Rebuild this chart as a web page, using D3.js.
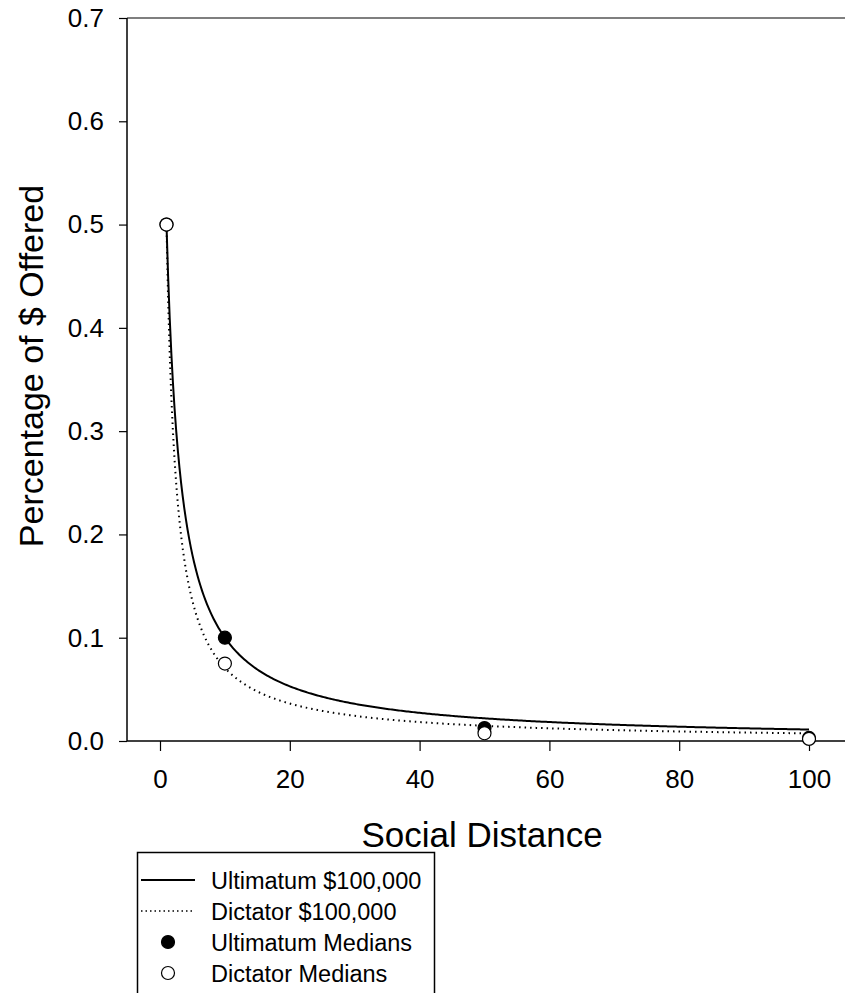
<!DOCTYPE html>
<html>
<head>
<meta charset="utf-8">
<script src="https://cdn.jsdelivr.net/npm/d3@7"></script>
<style>
  body { margin: 0; background: #fff; }
  svg { display: block; font-family: "Liberation Sans", Arial, sans-serif; }
</style>
</head>
<body>
<svg id="chart" width="845" height="993"></svg>
<script>
// observed medians by social distance
const distances = [1, 10, 50, 100];
const ultimatumMedians = [0.5, 0.1, 0.0125, 0.003];
const dictatorMedians = [0.5, 0.075, 0.0075, 0.002];

// hyperbolic fits v = A / (1 + k*D)
const ultimatumFit = { A: 0.9, k: 0.8 };
const dictatorFit = { A: 1.53, k: 2.06 };

const xTicks = [0, 20, 40, 60, 80, 100];
const yTicks = [0, 0.1, 0.2, 0.3, 0.4, 0.5, 0.6, 0.7];

const legendItems = [
    { label: "Ultimatum $100,000", type: "line", dash: null },
    { label: "Dictator $100,000", type: "line", dash: "1.5,3" },
    { label: "Ultimatum Medians", type: "dot", fill: "#000" },
    { label: "Dictator Medians", type: "dot", fill: "#fff" }
];

const FONT = '"Liberation Sans", Arial, sans-serif';

let svg = d3.select("#chart");

let x = d3.scaleLinear().domain([0, 100]).range([160, 809]);
let y = d3.scaleLinear().domain([0, 0.7]).range([741, 18]);
let xLeft = 127, xRight = 845;

// axes
let xAxis = svg.append('g')
    .attr("transform", "translate(0,741)")
    .call(d3.axisBottom(x).tickValues(xTicks).tickSize(10).tickPadding(19).tickFormat(d3.format("d")));
xAxis.select('.domain').remove();
xAxis.append('line')
    .attr('x1', xLeft).attr('x2', xRight)
    .attr('stroke', 'black').attr('stroke-width', 1.5);

let yAxis = svg.append('g')
    .attr("transform", `translate(${xLeft},0)`)
    .call(d3.axisLeft(y).tickValues(yTicks).tickSize(8).tickPadding(15).tickFormat(d3.format(".1f")));
yAxis.select('.domain').remove();
yAxis.append('line')
    .attr('y1', 18).attr('y2', 741)
    .attr('stroke', 'black').attr('stroke-width', 1.5);

svg.append('line')
    .attr('x1', xLeft).attr('x2', xRight)
    .attr('y1', 18).attr('y2', 18)
    .attr('stroke', 'black').attr('stroke-width', 1.2);

svg.selectAll('.tick line').attr('stroke', 'black').attr('stroke-width', 1.2);
svg.selectAll('.tick text')
    .attr('fill', 'black')
    .style('font-size', '26px')
    .style('font-family', FONT);

// axis titles
svg.append('text')
    .attr('x', 482).attr('y', 847)
    .attr('text-anchor', 'middle')
    .style('font-size', '35px')
    .text('Social Distance');

svg.append('text')
    .attr('transform', 'translate(43,366) rotate(-90)')
    .attr('text-anchor', 'middle')
    .style('font-size', '34px')
    .text('Percentage of $ Offered');

// fitted curves
function fitPoints(fit) {
    let pts = [];
    for (let d = 1; d <= 100; d += 0.25) {
        pts.push({ d: d, v: fit.A / (1 + fit.k * d) });
    }
    return pts;
}

let line = d3.line()
    .x(p => x(p.d))
    .y(p => y(p.v));

svg.append('path')
    .datum(fitPoints(dictatorFit))
    .attr('d', line)
    .attr('fill', 'none')
    .attr('stroke', 'black')
    .attr('stroke-width', 2)
    .attr('stroke-dasharray', '1.5,4');

svg.append('path')
    .datum(fitPoints(ultimatumFit))
    .attr('d', line)
    .attr('fill', 'none')
    .attr('stroke', 'black')
    .attr('stroke-width', 2);

// medians
svg.selectAll('.ult-point')
    .data(distances.map((d, i) => ({ d: d, v: ultimatumMedians[i] })))
    .enter()
    .append('circle')
    .classed('ult-point', true)
    .attr('cx', p => x(p.d))
    .attr('cy', p => y(p.v))
    .attr('r', 6.5)
    .attr('fill', 'black')
    .attr('stroke', 'black')
    .attr('stroke-width', 1.2);

svg.selectAll('.dic-point')
    .data(distances.map((d, i) => ({ d: d, v: dictatorMedians[i] })))
    .enter()
    .append('circle')
    .classed('dic-point', true)
    .attr('cx', p => x(p.d))
    .attr('cy', p => y(p.v))
    .attr('r', 6.5)
    .attr('fill', 'white')
    .attr('stroke', 'black')
    .attr('stroke-width', 1.2);

// legend (box runs past the bottom edge)
let legend = svg.append('g').attr('id', 'legend-g');
legend.append('path')
    .attr('d', 'M137.5,1000 V852.5 H434.5 V1000')
    .attr('fill', 'none')
    .attr('stroke', 'black')
    .attr('stroke-width', 1.5);

legendItems.forEach((item, i) => {
    let cy = 880 + i * 31;
    if (item.type == "line") {
        legend.append('line')
            .attr('x1', 141).attr('x2', 195)
            .attr('y1', cy).attr('y2', cy)
            .attr('stroke', 'black')
            .attr('stroke-width', item.dash ? 1.5 : 2)
            .attr('stroke-dasharray', item.dash);
    } else {
        legend.append('circle')
            .attr('cx', 168).attr('cy', cy)
            .attr('r', 6.5)
            .attr('fill', item.fill)
            .attr('stroke', 'black')
            .attr('stroke-width', 1.2);
    }
    legend.append('text')
        .attr('x', 211).attr('y', cy + 8.5)
        .style('font-size', '23.5px')
        .text(item.label);
});
</script>
</body>
</html>
